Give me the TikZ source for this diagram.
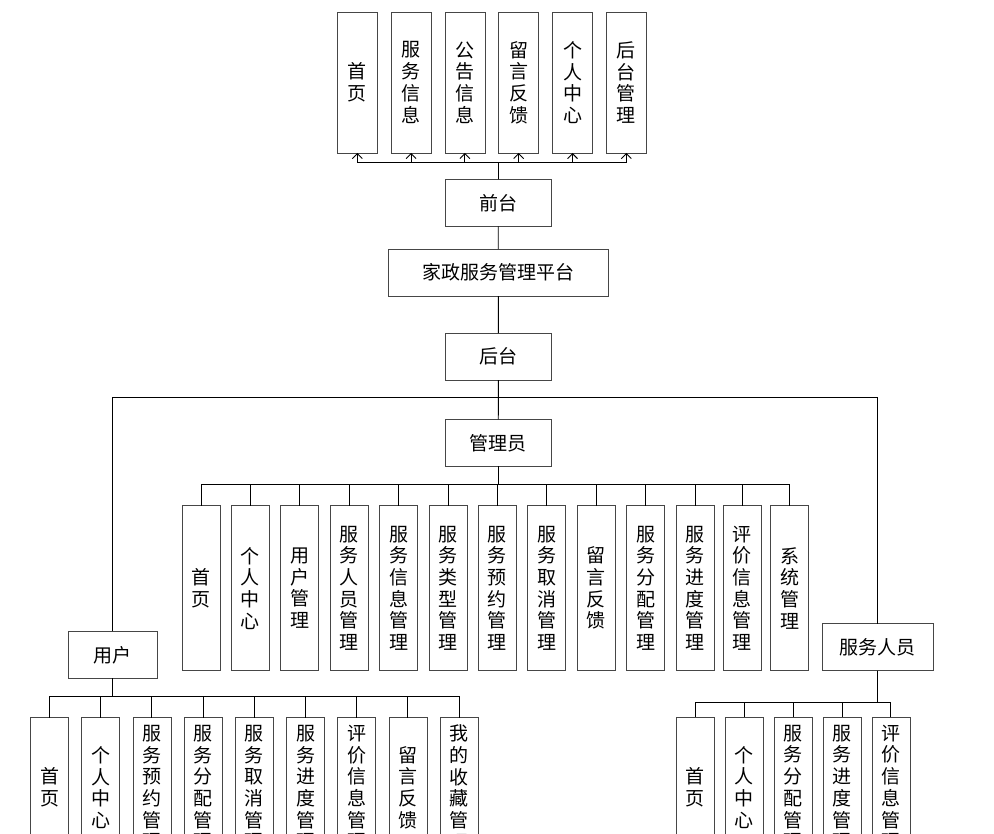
\documentclass[tikz,border=0pt]{standalone}
\usepackage{fontspec}
\setmainfont{Noto Sans CJK SC}
\usepackage{tikz}
\usetikzlibrary{positioning,arrows.meta}
\definecolor{borde}{RGB}{70,70,70}

\begin{document}
\begin{tikzpicture}[x=1pt,y=-1pt,
  font=\fontsize{19}{21.7}\selectfont,
  line width=0.9pt,
  hbox/.style={draw=borde,line width=0.8pt,minimum height=47pt,inner sep=0pt,outer sep=0pt},
  vbox/.style={draw=borde,line width=0.8pt,minimum width=38pt,inner sep=0pt,outer sep=0pt,align=center},
  >={Straight Barb[length=5pt,width=10pt]}]
  \useasboundingbox (0,0) rectangle (994,834);
  \clip (0,0) rectangle (994,834);
  % front end
  \node[vbox,minimum width=40pt,minimum height=141pt] (t1) at (357.3,82.5) {首\\页};
  \node[vbox,minimum width=40pt,minimum height=141pt,right=13.8pt of t1] (t2) {服\\务\\信\\息};
  \node[vbox,minimum width=40pt,minimum height=141pt,right=13.8pt of t2] (t3) {公\\告\\信\\息};
  \node[vbox,minimum width=40pt,minimum height=141pt,right=13.8pt of t3] (t4) {留\\言\\反\\馈};
  \node[vbox,minimum width=40pt,minimum height=141pt,right=13.8pt of t4] (t5) {个\\人\\中\\心};
  \node[vbox,minimum width=40pt,minimum height=141pt,right=13.8pt of t5] (t6) {后\\台\\管\\理};
  \node[hbox,minimum width=106pt] (qt) at (498.2,203) {前台};
  \node[hbox,minimum width=220pt] (pt) at (498.3,272.7) {家政服务管理平台};
  \node[hbox,minimum width=106pt] (ht) at (498.5,356.7) {后台};
  \node[hbox,minimum width=106pt] (gly) at (498.2,442.8) {管理员};
  \node[hbox,minimum width=89pt] (yh) at (112.8,654.8) {用户};
  \node[hbox,minimum width=111pt] (fw) at (877.8,647) {服务人员};
  % admin modules
  \node[vbox,minimum height=165pt] (a1) at (201,588.2) {首\\页};
  \node[vbox,minimum height=165pt,right=11.4pt of a1] (a2) {个\\人\\中\\心};
  \node[vbox,minimum height=165pt,right=11.4pt of a2] (a3) {用\\户\\管\\理};
  \node[vbox,minimum height=165pt,right=11.4pt of a3] (a4) {服\\务\\人\\员\\管\\理};
  \node[vbox,minimum height=165pt,right=11.4pt of a4] (a5) {服\\务\\信\\息\\管\\理};
  \node[vbox,minimum height=165pt,right=11.4pt of a5] (a6) {服\\务\\类\\型\\管\\理};
  \node[vbox,minimum height=165pt,right=11.4pt of a6] (a7) {服\\务\\预\\约\\管\\理};
  \node[vbox,minimum height=165pt,right=11.4pt of a7] (a8) {服\\务\\取\\消\\管\\理};
  \node[vbox,minimum height=165pt,right=11.4pt of a8] (a9) {留\\言\\反\\馈};
  \node[vbox,minimum height=165pt,right=11.4pt of a9] (a10) {服\\务\\分\\配\\管\\理};
  \node[vbox,minimum height=165pt,right=11.4pt of a10] (a11) {服\\务\\进\\度\\管\\理};
  \node[vbox,minimum height=165pt,right=9.4pt of a11] (a12) {评\\价\\信\\息\\管\\理};
  \node[vbox,minimum height=165pt,right=9.4pt of a12] (a13) {系\\统\\管\\理};
  % user modules
  \node[vbox,minimum height=140pt] (u1) at (49.5,787.5) {首\\页};
  \node[vbox,minimum height=140pt,right=13.2pt of u1] (u2) {个\\人\\中\\心};
  \node[vbox,minimum height=140pt,right=13.2pt of u2] (u3) {服\\务\\预\\约\\管\\理};
  \node[vbox,minimum height=140pt,right=13.2pt of u3] (u4) {服\\务\\分\\配\\管\\理};
  \node[vbox,minimum height=140pt,right=13.2pt of u4] (u5) {服\\务\\取\\消\\管\\理};
  \node[vbox,minimum height=140pt,right=13.2pt of u5] (u6) {服\\务\\进\\度\\管\\理};
  \node[vbox,minimum height=140pt,right=13.2pt of u6] (u7) {评\\价\\信\\息\\管\\理};
  \node[vbox,minimum height=140pt,right=13.2pt of u7] (u8) {留\\言\\反\\馈};
  \node[vbox,minimum height=140pt,right=13.2pt of u8] (u9) {我\\的\\收\\藏\\管\\理};
  % staff modules
  \node[vbox,minimum height=140pt] (s1) at (695.3,787.3) {首\\页};
  \node[vbox,minimum height=140pt,right=10.9pt of s1] (s2) {个\\人\\中\\心};
  \node[vbox,minimum height=140pt,right=10.9pt of s2] (s3) {服\\务\\分\\配\\管\\理};
  \node[vbox,minimum height=140pt,right=10.9pt of s3] (s4) {服\\务\\进\\度\\管\\理};
  \node[vbox,minimum height=140pt,right=10.9pt of s4] (s5) {评\\价\\信\\息\\管\\理};
  \coordinate (tbus) at (498,162);
  \coordinate (hbus) at (498,397.5);
  \coordinate (abus) at (498,484);
  \coordinate (ubus) at (112.8,696);
  \coordinate (sbus) at (877.8,702.3);
  % links
  \foreach \n in {t1,t2,t3,t4,t5,t6}
    \draw[->] (qt.north -| tbus) -- (tbus) -| (\n.south);
  \draw (qt) -- (pt);
  \draw (pt) -- (ht);
  \draw (ht) -- (gly);
  \draw (yh.north) |- (hbus) -| (fw.north);
  \foreach \n in {a1,a2,a3,a4,a5,a6,a7,a8,a9,a10,a11,a12,a13}
    \draw (gly.south -| abus) -- (abus) -| (\n.north);
  \foreach \n in {u1,u2,u3,u4,u5,u6,u7,u8,u9}
    \draw (yh.south) -- (ubus) -| (\n.north);
  \foreach \n in {s1,s2,s3,s4,s5}
    \draw (fw.south) -- (sbus) -| (\n.north);
\end{tikzpicture}
\end{document}
